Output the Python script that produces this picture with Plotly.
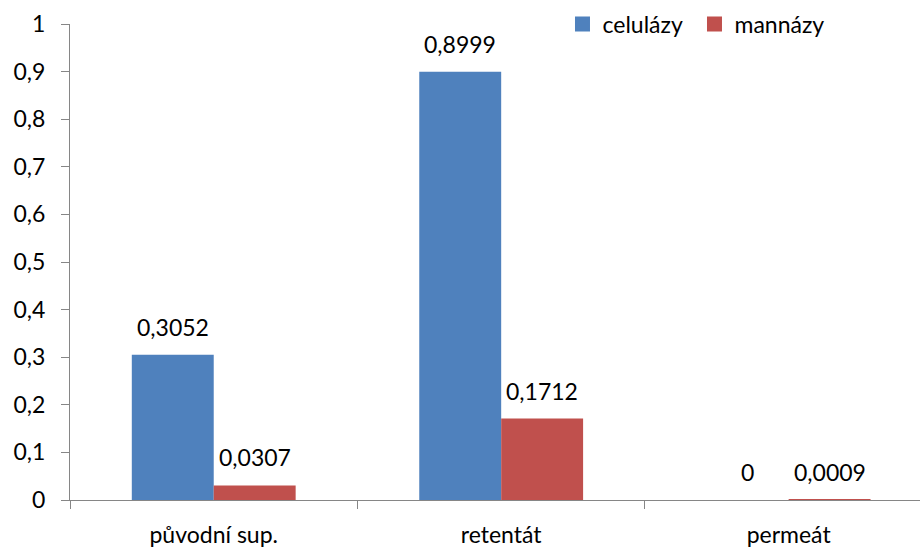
import plotly.graph_objects as go

categories = ["původní sup.", "retentát", "permeát"]
celulazy = [0.3052, 0.8999, 0]
mannazy = [0.0307, 0.1712, 0.0009]
series_names = ["celulázy", "mannázy"]
y_ticks = [0, 0.1, 0.2, 0.3, 0.4, 0.5, 0.6, 0.7, 0.8, 0.9, 1]

colors = ["#4F81BD", "#C0504D"]
FONT = "Lato"
FS = 23
W, H = 920, 547
ML, MR, MT, MB = 70, 0, 24, 47
BARGAP = 0.43
# visible x-range in category units (plot extends slightly beyond right edge)
XR = [-0.5, 2.457]

def fmt(v):
    s = f"{v:g}"
    return s.replace(".", ",")

fig = go.Figure()
for name, vals, col in zip(series_names, [celulazy, mannazy], colors):
    fig.add_trace(go.Bar(x=categories, y=vals, name=name, marker_color=col,
                         marker_line_width=0, showlegend=False))
# legend entries with larger square swatches
for name, col in zip(series_names, colors):
    fig.add_trace(go.Scatter(x=[None], y=[None], mode="markers", name=name,
                             marker=dict(symbol="square", size=15, color=col),
                             showlegend=True))

plot_w = W - ML - MR
cat_px = plot_w / (XR[1] - XR[0])
bar_px = cat_px * (1 - BARGAP) / 2
annotations = []
for i, vals in enumerate([celulazy, mannazy]):
    shift = (i - 0.5) * bar_px
    for c, v in zip(categories, vals):
        annotations.append(dict(x=c, y=v, text=fmt(v), showarrow=False,
                                xshift=shift, yshift=12, yanchor="bottom",
                                font=dict(family=FONT, size=FS, color="#000")))

fig.update_layout(
    width=W, height=H,
    margin=dict(l=ML, r=MR, t=MT, b=MB, autoexpand=False),
    paper_bgcolor="white", plot_bgcolor="white",
    barmode="group", bargap=BARGAP, bargroupgap=0,
    separators=", ",
    font=dict(family=FONT, size=FS, color="#000"),
    annotations=annotations,
    showlegend=True,
    legend=dict(orientation="h", x=0.5794, xanchor="left", y=1.0, yanchor="middle",
                font=dict(family=FONT, size=FS), bgcolor="rgba(0,0,0,0)",
                itemwidth=30, tracegroupgap=0, entrywidth=87),
    xaxis=dict(range=XR, showline=True, linecolor="#868686", linewidth=1,
               ticks="outside", tickson="boundaries", ticklen=8, tickcolor="#868686",
               showgrid=False, zeroline=False, ticklabelstandoff=14, automargin=False,
               tickfont=dict(family=FONT, size=FS, color="#000")),
    yaxis=dict(range=[0, 1], tickvals=y_ticks, showline=True, linecolor="#868686",
               linewidth=1, ticks="outside", ticklen=8, tickcolor="#868686",
               showgrid=False, zeroline=False, ticklabelstandoff=11, automargin=False,
               tickfont=dict(family=FONT, size=FS, color="#000")),
)

fig.write_html("out.html", config={"displayModeBar": False},
               post_script="document.body.style.margin='0';")
